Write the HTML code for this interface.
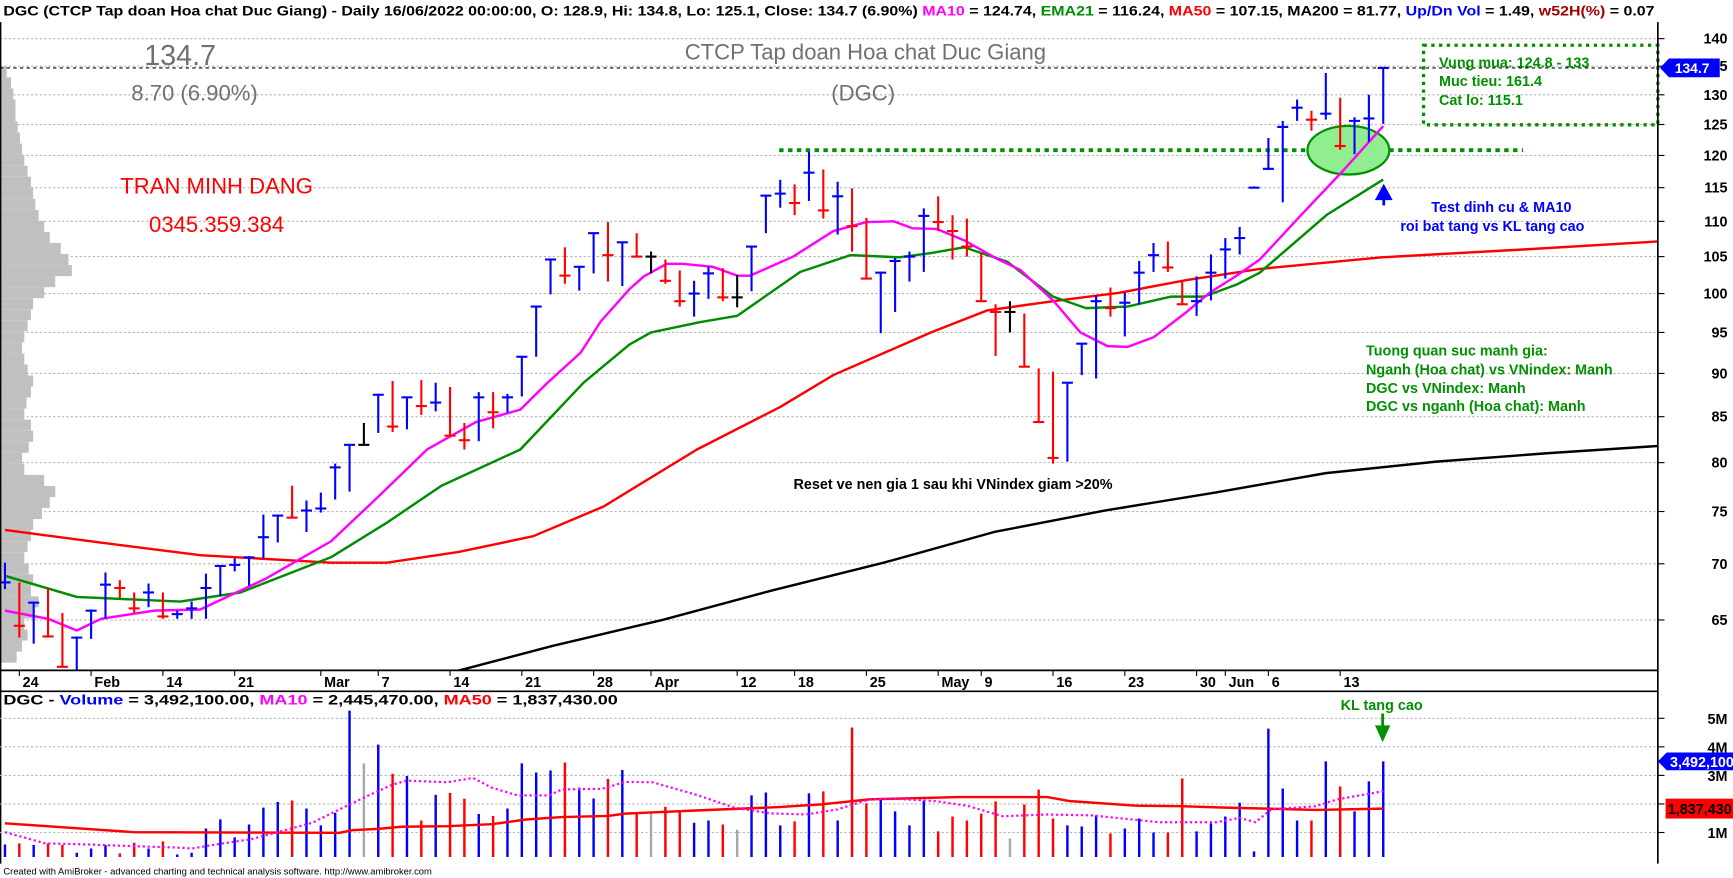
<!DOCTYPE html>
<html><head><meta charset="utf-8">
<style>
html,body{margin:0;padding:0;background:#fff;overflow:hidden}
svg{display:block}
text{font-family:"Liberation Sans",Arial,sans-serif}
</style></head>
<body>
<svg id="chart" xmlns="http://www.w3.org/2000/svg" width="1733" height="878" viewBox="0 0 1568 795" preserveAspectRatio="none">
<defs>
<clipPath id="mainClip"><rect x="0" y="20" width="1500" height="587"/></clipPath>
<clipPath id="volClip"><rect x="0" y="640" width="1500" height="138"/></clipPath>
</defs>
<rect x="0" y="0" width="1568" height="795" fill="#fff"/>
<text x="3" y="14" font-size="12.5" font-weight="bold" textLength="1494" lengthAdjust="spacingAndGlyphs"><tspan fill="#000">DGC (CTCP Tap doan Hoa chat Duc Giang) - Daily 16/06/2022 00:00:00, O: 128.9, Hi: 134.8, Lo: 125.1, Close: 134.7 (6.90%) </tspan><tspan fill="#ff00ff">MA10</tspan><tspan fill="#000"> = 124.74, </tspan><tspan fill="#008c00">EMA21</tspan><tspan fill="#000"> = 116.24, </tspan><tspan fill="#ff0000">MA50</tspan><tspan fill="#000"> = 107.15, MA200 = 81.77, </tspan><tspan fill="#0000ff">Up/Dn Vol</tspan><tspan fill="#000"> = 1.49, </tspan><tspan fill="#a00000">w52H(%)</tspan><tspan fill="#000"> = 0.07</tspan></text>
<g id="grid"></g>
<g id="profile"></g>
<g>
<text x="163" y="59" font-size="26" fill="#707070" text-anchor="middle">134.7</text>
<text x="176" y="91" font-size="20" fill="#707070" text-anchor="middle">8.70 (6.90%)</text>
<text x="783" y="54" font-size="20" fill="#707070" text-anchor="middle">CTCP Tap doan Hoa chat Duc Giang</text>
<text x="781" y="91" font-size="20" fill="#707070" text-anchor="middle">(DGC)</text>
<text x="196" y="175" font-size="20" fill="#ff0000" text-anchor="middle">TRAN MINH DANG</text>
<text x="196" y="210" font-size="20" fill="#ff0000" text-anchor="middle">0345.359.384</text>
</g>
<g>
<line x1="705" y1="136" x2="1378" y2="136" stroke="#009000" stroke-width="3.5" stroke-dasharray="4,4"/>
<ellipse cx="1220" cy="136" rx="37" ry="22" fill="#90ee90" stroke="#009000" stroke-width="2"/>
</g>
<g id="main" clip-path="url(#mainClip)"></g>
<g>
<rect x="1288" y="41" width="212" height="72" fill="none" stroke="#009000" stroke-width="3" stroke-dasharray="3,4"/>
<text x="1302" y="61" font-size="13" font-weight="bold" fill="#009000">Vung mua: 124.8 - 133</text>
<text x="1302" y="78" font-size="13" font-weight="bold" fill="#009000">Muc tieu: 161.4</text>
<text x="1302" y="95" font-size="13" font-weight="bold" fill="#009000">Cat lo: 115.1</text>
<path d="M1252 186 L1252 178 M1246 180 L1252 169 L1258 180 Z" stroke="#0000ff" stroke-width="2.5" fill="#0000ff"/>
<text x="1295" y="192" font-size="13" font-weight="bold" fill="#0000ff">Test dinh cu &amp; MA10</text>
<text x="1267" y="209" font-size="13" font-weight="bold" fill="#0000ff">roi bat tang vs KL tang cao</text>
<text x="1236" y="322" font-size="13" font-weight="bold" fill="#009000">Tuong quan suc manh gia:</text>
<text x="1236" y="339" font-size="13" font-weight="bold" fill="#009000">Nganh (Hoa chat) vs VNindex: Manh</text>
<text x="1236" y="356" font-size="13" font-weight="bold" fill="#009000">DGC vs VNindex: Manh</text>
<text x="1236" y="372" font-size="13" font-weight="bold" fill="#009000">DGC vs nganh (Hoa chat): Manh</text>
<text x="718" y="443" font-size="13" font-weight="bold" fill="#000">Reset ve nen gia 1 sau khi VNindex giam &gt;20%</text>
</g>
<g id="axes"></g>
<text x="3" y="638" font-size="12.5" font-weight="bold" textLength="556" lengthAdjust="spacingAndGlyphs"><tspan fill="#000">DGC - </tspan><tspan fill="#0000ff">Volume</tspan><tspan fill="#000"> = 3,492,100.00, </tspan><tspan fill="#ff00ff">MA10</tspan><tspan fill="#000"> = 2,445,470.00, </tspan><tspan fill="#ff0000">MA50</tspan><tspan fill="#000"> = 1,837,430.00</tspan></text>
<g id="vol" clip-path="url(#volClip)"></g>
<g>
<text x="1213" y="643" font-size="13" font-weight="bold" fill="#009000">KL tang cao</text>
<path d="M1251 646 L1251 660 M1246 658 L1251 669 L1256 658 Z" stroke="#009000" stroke-width="2.5" fill="#009000"/>
</g>
<text x="3" y="792" font-size="8.5" fill="#000">Created with AmiBroker - advanced charting and technical analysis software. http://www.amibroker.com</text>
</svg>
<script>
// ---- price data (per trading day) ----
const highs=[70.1,68.3,66.6,67.8,65.6,63.6,65.9,69.2,68.5,67.4,68.2,67.4,65.8,66.6,69.1,69.8,70.5,70.7,74.7,74.6,77.6,76.1,76.9,79.9,82.0,84.3,87.5,89.1,87.2,89.2,88.9,88.4,84.3,87.8,87.8,87.6,92.0,98.3,104.6,106.3,103.6,108.3,109.9,107.1,108.3,105.7,104.6,103.1,101.7,103.6,103.4,102.5,106.4,113.8,116.2,115.5,120.6,117.8,115.9,114.9,110.5,102.9,104.8,105.7,111.9,113.7,110.9,110.4,105.5,98.6,99.0,97.4,90.6,90.2,88.9,93.6,99.8,100.8,100.1,104.4,106.9,107.1,101.6,102.3,105.3,107.6,109.2,115.2,122.8,125.6,129.2,127.3,133.8,129.5,126.2,130.0,134.8];
const lows=[67.7,63.5,63.0,63.5,61.1,59.9,63.4,65.1,66.9,65.6,66.1,65.1,65.1,65.1,65.1,67.1,69.3,68.0,70.5,72.0,74.3,73.0,74.9,76.2,77.0,81.8,83.2,83.3,83.6,85.2,85.6,82.9,81.4,82.3,83.7,85.5,87.3,92.0,99.9,101.3,100.4,102.7,101.6,101.0,105.0,102.7,101.3,98.3,97.0,99.3,99.0,98.2,100.3,108.3,112.0,110.9,113.0,110.4,108.1,105.7,102.0,94.9,97.6,101.6,102.9,108.6,104.6,105.0,99.0,92.1,95.0,90.8,84.4,79.9,80.1,89.8,89.4,97.0,94.5,98.6,102.9,102.9,98.5,97.1,99.1,102.0,105.3,114.9,117.7,112.8,125.6,124.0,125.8,120.9,120.2,122.2,125.1];
const closes=[68.3,64.5,66.5,63.6,61.1,63.5,65.8,68.1,67.8,66.0,67.4,65.3,65.5,66.0,67.8,69.8,69.9,70.6,72.5,74.6,74.4,75.1,75.3,79.5,81.9,81.9,87.5,83.9,87.2,86.2,86.6,82.9,82.4,87.2,85.5,87.2,92.0,98.3,104.6,102.4,103.6,108.3,105.2,107.0,105.0,105.0,101.7,99.0,100.0,102.7,99.5,99.5,106.4,113.8,114.1,112.7,117.3,111.6,113.7,109.3,102.0,102.8,104.4,105.0,110.8,109.9,108.6,106.4,99.0,97.6,97.6,90.8,84.4,80.5,88.9,93.6,99.0,98.1,98.8,102.8,105.2,103.5,98.6,99.0,102.8,106.0,107.6,115.0,117.9,124.6,127.8,125.8,126.8,121.5,125.6,126.0,134.7];
// ---- moving averages (bar index, value) ----
const ma10Idx=[0,3,5,6.7,10.4,13.6,18.1,22.7,25.8,29.4,32.8,35.9,37.8,40.1,41.5,43.5,44.5,46.1,47.2,49.3,51,51.9,54.9,57.7,60,61.9,63.2,64.9,66.8,69.1,70.7,73,74.9,76.8,78.2,80,82.3,83.9,85.8,87.4,90.4,93.2,96];
const ma10Val=[65.8,65.1,64.1,65.1,65.8,65.9,68.6,72.1,76.2,81.4,84.4,85.8,88.9,92.5,96.4,100.6,102.3,104.0,104.0,103.6,102.4,102.4,105.0,108.6,109.9,110.0,109.0,108.9,107.3,104.7,103.2,99.1,95.0,93.3,93.2,94.4,97.6,100.1,102.4,104.6,111.2,117.6,124.74];
const ema21Idx=[0,5,12.2,16.4,22.7,26.6,30.4,35.9,40.3,43.5,45,48.4,51,55.4,58.9,62.3,64.5,66.8,69.8,73,75.3,78.2,81.2,83.5,85.8,87.4,92.1,96];
const ema21Val=[68.9,67.0,66.6,67.4,70.6,73.9,77.6,81.4,88.9,93.5,95.0,96.3,97.1,102.9,105.2,104.9,105.5,106.3,104.3,99.6,98.1,98.3,99.6,99.6,101.2,102.8,111.0,116.24];
const ma50Idx=[0,6.6,13.6,22.7,26.6,31.6,36.8,41.7,48.2,54,57.7,64.5,68.4,73,77.6,82.3,87.4,95.9,105.9,115.4];
const ma50Val=[73.2,72.0,70.8,70.1,70.1,71.1,72.6,75.5,81.4,86.1,89.8,95.0,97.8,99.0,100.1,101.8,103.3,104.9,106.0,107.15];
const ma200Idx=[31.6,38.1,45.8,53.5,61.2,68.9,76.6,84.3,92,99.7,107.4,115.4];
const ma200Val=[60.8,62.8,65.0,67.6,70.1,73.0,75.1,76.9,78.9,80.1,81.0,81.8];
// ---- volume (millions) ----
const volumes=[0.58,0.62,0.56,0.62,0.56,0.29,0.44,0.56,0.27,0.64,0.44,0.69,0.23,0.29,1.14,1.46,0.83,1.28,1.87,2.07,2.12,1.84,1.25,1.69,5.27,3.42,4.08,3.06,2.98,1.42,2.32,2.39,2.18,1.65,1.58,1.84,3.42,3.10,3.17,3.45,2.57,2.19,2.88,3.19,1.69,1.72,1.90,1.71,1.34,1.42,1.28,1.10,2.30,2.40,1.25,1.39,2.37,2.44,1.42,4.68,2.02,2.16,1.74,1.25,2.12,1.04,1.56,1.42,1.66,2.09,0.79,1.98,2.50,1.49,1.25,1.21,1.60,0.97,1.14,1.49,1.00,1.00,2.89,1.04,1.32,1.56,2.04,0.34,4.64,2.54,1.42,1.42,3.49,2.61,1.74,2.79,3.492];
const vma10Idx=[0,2.8,5.9,9,12.1,13,15.2,17.1,19,21.4,23.3,25.2,27,28,30.8,32.6,33.9,35.7,37.9,38.8,41.6,43.2,45.1,48.1,50.8,53.3,55.8,58,60.2,61.7,64.8,67,69.5,72.6,75.7,80.4,84.4,86,87.1,88.2,91.3,92.8,96];
const vma10Val=[1.01,0.62,0.58,0.52,0.47,0.44,0.62,0.76,1.01,1.34,1.81,2.27,2.68,2.82,2.76,2.91,2.57,2.30,2.30,2.51,2.53,2.77,2.76,2.33,1.87,1.67,1.63,1.81,2.16,2.19,2.10,1.94,1.57,1.63,1.60,1.36,1.36,1.51,1.36,1.81,1.92,2.16,2.445];
const vma50Idx=[0,9,23.3,24.2,26.1,27.6,30.8,33.9,36.4,38.8,42,43.2,48.1,53.9,57,60.2,66.4,72.6,74.2,78.8,81.9,85,88.2,91.3,96];
const vma50Val=[1.32,1.01,0.99,1.08,1.13,1.20,1.22,1.29,1.46,1.54,1.58,1.66,1.77,1.89,1.99,2.16,2.24,2.24,2.10,1.94,1.92,1.87,1.83,1.79,1.837];
// ---- axis labels ----
const priceTicks=[140,135,130,125,120,115,110,105,100,95,90,85,80,75,70,65];
const volTicks=[5,4,3,2,1];
const volTickLabels=["5M","4M","3M","2M","1M"];
const dateTickIdx=[1,6,11,16,22,26,31,36,41,45,51,55,60,65,68,73,78,83,85,88,93];
const dateTickLabels=["24","Feb","14","21","Mar","7","14","21","28","Apr","12","18","25","May","9","16","23","30","Jun","6","13"];
const profileWidths=[6,10,12,14,14,16,18,20,22,25,28,30,32,35,40,45,55,62,65,50,40,30,28,25,22,20,22,25,30,28,24,22,28,30,26,20,22,40,50,45,38,30,28,25,22,26,30,28,35,30,22,25,20,15];

const NS="http://www.w3.org/2000/svg";
function xI(i){return 4.5+i*12.99;}
function yP(p){return 35+686*Math.log(140/p);}
function yV(m){return 779.65-m*25.85;}
function mk(tag,attrs,parent){const e=document.createElementNS(NS,tag);for(const k in attrs)e.setAttribute(k,attrs[k]);parent.appendChild(e);return e;}

const grid=document.getElementById('grid');
const main=document.getElementById('main');
const axes=document.getElementById('axes');
const vol=document.getElementById('vol');
const prof=document.getElementById('profile');

priceTicks.forEach(function(p){
  const l=mk('line',{x1:0,x2:1500,y1:yP(p),y2:yP(p),stroke:'#b4b4b4','stroke-width':1,'stroke-dasharray':'2,2'},grid);
  
  
});
profileWidths.forEach(function(w,k){
  const r=mk('rect',{x:0,y:60+k*10,width:w,height:10,fill:'#c0c0c0'},prof);
  
  
});

const cl=mk('line',{x1:0,x2:1500,y1:yP(closes[closes.length-1]),y2:yP(closes[closes.length-1]),stroke:'#000','stroke-width':1,'stroke-dasharray':'3,3'},main);



function drawLine(idx,val,color,w,name,parent,yf,dash){
  let d='';
  idx.forEach(function(i,k){d+=(k?'L':'M')+xI(i).toFixed(1)+' '+yf(val[k]).toFixed(1);});
  const a={d:d,fill:'none',stroke:color,'stroke-width':w,'stroke-linejoin':'round'};
  if(dash)a['stroke-dasharray']=dash;
  const p=mk('path',a,parent);
  
  
}
drawLine(ma200Idx,ma200Val,'#000',2.2,'ma200-line',main,yP);
drawLine(ma50Idx,ma50Val,'#ff0000',2.2,'ma50-line',main,yP);
drawLine(ema21Idx,ema21Val,'#008c00',2.2,'ema21-line',main,yP);
drawLine(ma10Idx,ma10Val,'#ff00ff',2.2,'ma10-line',main,yP);

function barColor(i){
  if(i===0)return '#0000ff';
  if(closes[i]>closes[i-1])return '#0000ff';
  if(closes[i]<closes[i-1])return '#ff0000';
  return '#000';
}
closes.forEach(function(c,i){
  const g=mk('g',{},main);
  
  
  const col=barColor(i),x=xI(i);
  mk('line',{x1:x,x2:x,y1:yP(highs[i]),y2:yP(lows[i]),stroke:col,'stroke-width':1.9},g);
  mk('line',{x1:x-5,x2:x+5,y1:yP(c),y2:yP(c),stroke:col,'stroke-width':1.9},g);
});

[[1500,20,1500,782],[0,607,1500,607],[0,626,1500,626],[0.5,20,0.5,782]].forEach(function(a){
  const l=mk('line',{x1:a[0],y1:a[1],x2:a[2],y2:a[3],stroke:'#000','stroke-width':1.5},axes);
  
  
});
priceTicks.forEach(function(p){
  const y=yP(p);
  mk('line',{x1:1500,x2:1506,y1:y,y2:y,stroke:'#000','stroke-width':1},axes);
  const t=mk('text',{x:1563,y:y+4.5,'font-size':13,'font-weight':'bold','text-anchor':'end',fill:'#000'},axes);
  t.textContent=p;
  
  
});
dateTickIdx.forEach(function(i,k){
  const x=xI(i);
  mk('line',{x1:x,x2:x,y1:607,y2:612,stroke:'#000','stroke-width':1},axes);
  const t=mk('text',{x:x+3,y:622,'font-size':13,'font-weight':'bold',fill:'#000'},axes);
  t.textContent=dateTickLabels[k];
  
  
});
const lastY=yP(closes[closes.length-1]);
const tag=mk('path',{d:'M1502 '+lastY+' L1510 '+(lastY-8.5)+' L1556 '+(lastY-8.5)+' L1556 '+(lastY+8.5)+' L1510 '+(lastY+8.5)+' Z',fill:'#0000ff'},axes);


const tt=mk('text',{x:1531,y:lastY+4.5,'font-size':12.5,'font-weight':'bold','text-anchor':'middle',fill:'#fff'},axes);
tt.textContent=closes[closes.length-1].toFixed(1);



volTicks.forEach(function(m,k){
  const y=yV(m);
  const l=mk('line',{x1:0,x2:1500,y1:y,y2:y,stroke:'#b4b4b4','stroke-width':1,'stroke-dasharray':'2,2'},vol);
  
  
  mk('line',{x1:1500,x2:1506,y1:y,y2:y,stroke:'#000','stroke-width':1},axes);
  const t=mk('text',{x:1563,y:y+5,'font-size':13,'font-weight':'bold','text-anchor':'end',fill:'#000'},axes);
  t.textContent=volTickLabels[k];
  
  
});
volumes.forEach(function(v,i){
  const c=barColor(i);
  const col=c==='#000'?'#a8a8a8':c;
  const r=mk('line',{x1:xI(i),x2:xI(i),y1:776,y2:yV(v),stroke:col,'stroke-width':2.2},vol);
  
  
});
drawLine(vma50Idx,vma50Val,'#ff0000',2.2,'volume-ma50-line',vol,yV);
drawLine(vma10Idx,vma10Val,'#ff00ff',2,'volume-ma10-line',vol,yV,'2,2.5');
const lv=volumes[volumes.length-1],yl=yV(lv);
const vt=mk('path',{d:'M1500 '+yl+' L1508 '+(yl-8)+' L1568 '+(yl-8)+' L1568 '+(yl+8)+' L1508 '+(yl+8)+' Z',fill:'#0000ff'},axes);


const vtt=mk('text',{x:1511,y:yl+5,'font-size':13,'font-weight':'bold',fill:'#fff'},axes);
vtt.textContent='3,492,100';


const ym=yV(vma50Val[vma50Val.length-1]);
const mt=mk('rect',{x:1507,y:ym-9,width:61,height:18,fill:'#ff0000'},axes);


const mtt=mk('text',{x:1509,y:ym+5,'font-size':13,'font-weight':'bold',fill:'#000'},axes);
mtt.textContent='1,837,430';


</script>
</body></html>
